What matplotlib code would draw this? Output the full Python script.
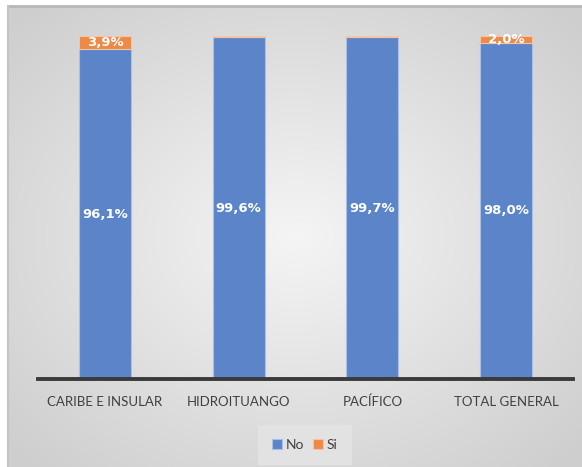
import matplotlib.pyplot as plt
import numpy as np

plt.rcParams['font.family'] = ['Lato', 'DejaVu Sans']

# Data
categories = ['CARIBE E INSULAR', 'HIDROITUANGO', 'PACÍFICO', 'TOTAL GENERAL']
no_vals = [96.1, 99.6, 99.7, 98.0]
si_vals = [3.9, 0.4, 0.3, 2.0]
si_show = [True, False, False, True]

BLUE = '#5b84c9'
ORANGE = '#ed8a47'

W, H = 582, 467
fig = plt.figure(figsize=(W / 100, H / 100), dpi=100, facecolor='white')

# chart area background with soft radial gradient
bg = fig.add_axes([8 / W, 0, 1 - 8 / W, (H - 6) / H])
gx, gy = np.meshgrid(np.linspace(-1, 1, 300), np.linspace(-1, 1, 240))
r = np.clip(np.sqrt(gx ** 2 + gy ** 2) / 1.35, 0, 1)
shade = 0.96 - 0.15 * r
bg.imshow(np.dstack([shade, shade, shade]), aspect='auto', extent=[0, 1, 0, 1])
bg.set_axis_off()
fig.add_artist(plt.Line2D([8 / W, 1], [(H - 6) / H] * 2, color='#b8b8b8', lw=2))
fig.add_artist(plt.Line2D([8 / W] * 2, [0, (H - 6) / H], color='#c4c4c4', lw=1.5))

ax = fig.add_axes([38 / W, 88 / H, 535 / W, (379 - 36) / H])
ax.patch.set_alpha(0)
x = np.arange(len(categories))
bw = 0.39
ax.bar(x, no_vals, bw, color=BLUE, edgecolor='#a9bfe6', linewidth=0.8, label='No')
ax.bar(x, si_vals, bw, bottom=no_vals, color=ORANGE, edgecolor='#f6c4a2', linewidth=0.8, label='Si')

lab_font = dict(ha='center', va='center', color='white', fontsize=9.5,
                fontweight='bold', family='DejaVu Sans')
for i in range(len(categories)):
    ax.text(x[i], no_vals[i] / 2, f'{no_vals[i]:.1f}%'.replace('.', ','), **lab_font)
    if si_show[i]:
        ax.text(x[i], no_vals[i] + si_vals[i] / 2, f'{si_vals[i]:.1f}%'.replace('.', ','), **lab_font)

ax.set_xlim(-0.5, 3.5)
ax.set_ylim(0, 100)
ax.set_yticks([])
ax.set_xticks(x)
ax.set_xticklabels(categories, fontsize=9.5, color='#404040')
ax.tick_params(axis='x', length=0, pad=12)
for s in ['top', 'right', 'left']:
    ax.spines[s].set_visible(False)
ax.spines['bottom'].set_color('#3a3a3a')
ax.spines['bottom'].set_linewidth(2.8)

leg = fig.legend(loc='center', bbox_to_anchor=(305 / W, 1 - 445 / H), ncol=2,
                 frameon=True, fontsize=10, handlelength=0.7, handleheight=0.7,
                 handletextpad=0.3, columnspacing=0.6, borderpad=1.0, fancybox=False)
leg.get_frame().set_facecolor('#e2e2e2')
leg.get_frame().set_edgecolor('none')
leg.get_frame().set_alpha(1)
for t in leg.get_texts():
    t.set_color('#404040')

fig.savefig('out.png', dpi=100, facecolor='white')
